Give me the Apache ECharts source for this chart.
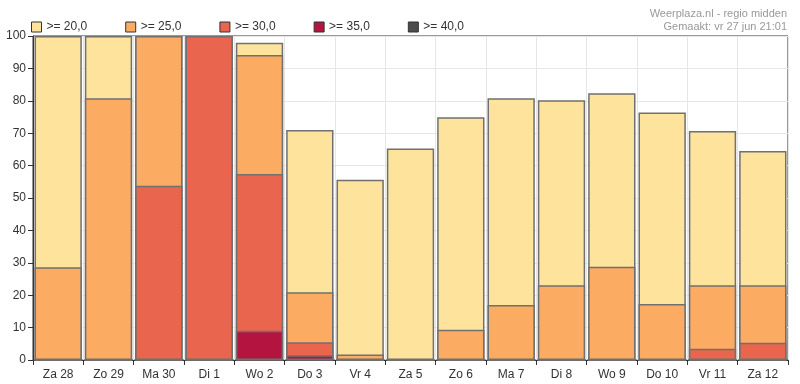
<!DOCTYPE html>
<html><head><meta charset="utf-8">
<script src="https://cdn.jsdelivr.net/npm/echarts@6/dist/echarts.min.js"></script>
<style>html,body{margin:0;padding:0;background:#fff}#c{width:800px;height:384px}</style>
</head><body><div id="c"></div>
<script>
const categories = ['Za 28','Zo 29','Ma 30','Di 1','Wo 2','Do 3','Vr 4','Za 5','Zo 6','Ma 7','Di 8','Wo 9','Do 10','Vr 11','Za 12'];
const seriesNames = ['>= 20,0','>= 25,0','>= 30,0','>= 35,0','>= 40,0'];
const ge20 = [100, 100, 100, 100, 97.9, 71.0, 55.6, 65.3, 74.9, 80.8, 80.2, 82.3, 76.4, 70.7, 64.5];
const ge25 = [28.6, 80.8, 100, 100, 94.1, 20.9, 1.7, 0, 9.3, 17.0, 23.1, 28.8, 17.3, 23.1, 23.1];
const ge30 = [0, 0, 53.8, 100, 57.4, 5.5, 0, 0, 0, 0, 0, 0, 0, 3.5, 5.3];
const ge35 = [0, 0, 0, 0, 9.0, 1.5, 0, 0, 0, 0, 0, 0, 0, 0, 0];
const ge40 = [0, 0, 0, 0, 0, 0, 0, 0, 0, 0, 0, 0, 0, 0, 0];
const yTicks = [0,10,20,30,40,50,60,70,80,90,100];
const titleLines = ['Weerplaza.nl - regio midden', 'Gemaakt: vr 27 jun 21:01'];
const colors = ['#fde39c','#fbab62','#ea654d','#b31540','#4d4d4d'];
const allData = [ge20, ge25, ge30, ge35, ge40];

const chart = echarts.init(document.getElementById('c'));
chart.setOption({
  animation: false,
  textStyle: {fontFamily: 'Liberation Sans, Arial, sans-serif'},
  graphic: titleLines.map((t, i) => ({
    type: 'text', right: 13, top: 8 + i * 13,
    style: {text: t, fill: '#999', fontSize: 11, fontFamily: 'Liberation Sans, Arial, sans-serif'}
  })),
  legend: {
    left: 26, top: 16, itemWidth: 10, itemHeight: 10, itemGap: 38, icon: 'rect',
    textStyle: {fontSize: 12, color: '#333'},
    itemStyle: {borderColor: '#333', borderWidth: 1},
    data: seriesNames
  },
  grid: {left: 33, right: 12, top: 36, bottom: 24, show: true, borderColor: '#333', borderWidth: 1},
  xAxis: {
    type: 'category', data: categories, boundaryGap: true,
    axisLine: {lineStyle: {color: '#333'}},
    axisTick: {show: true, length: 5, lineStyle: {color: '#333'}},
    axisLabel: {color: '#333', fontSize: 12, margin: 9},
    splitLine: {show: true, lineStyle: {color: '#e6e6e6'}}
  },
  yAxis: {
    type: 'value', min: 0, max: 100, interval: 10,
    axisLine: {show: true, lineStyle: {color: '#333'}},
    axisTick: {show: true, length: 5, lineStyle: {color: '#333'}},
    axisLabel: {color: '#333', fontSize: 12, margin: 7, formatter: v => yTicks.includes(v) ? String(v) : ''},
    splitLine: {show: true, lineStyle: {color: '#e6e6e6'}}
  },
  series: seriesNames.map((n, i) => ({
    name: n, type: 'bar', data: allData[i],
    barGap: '-100%', barCategoryGap: '6%',
    itemStyle: {color: colors[i], borderColor: '#707070', borderWidth: 1.5}
  }))
});
</script></body></html>
